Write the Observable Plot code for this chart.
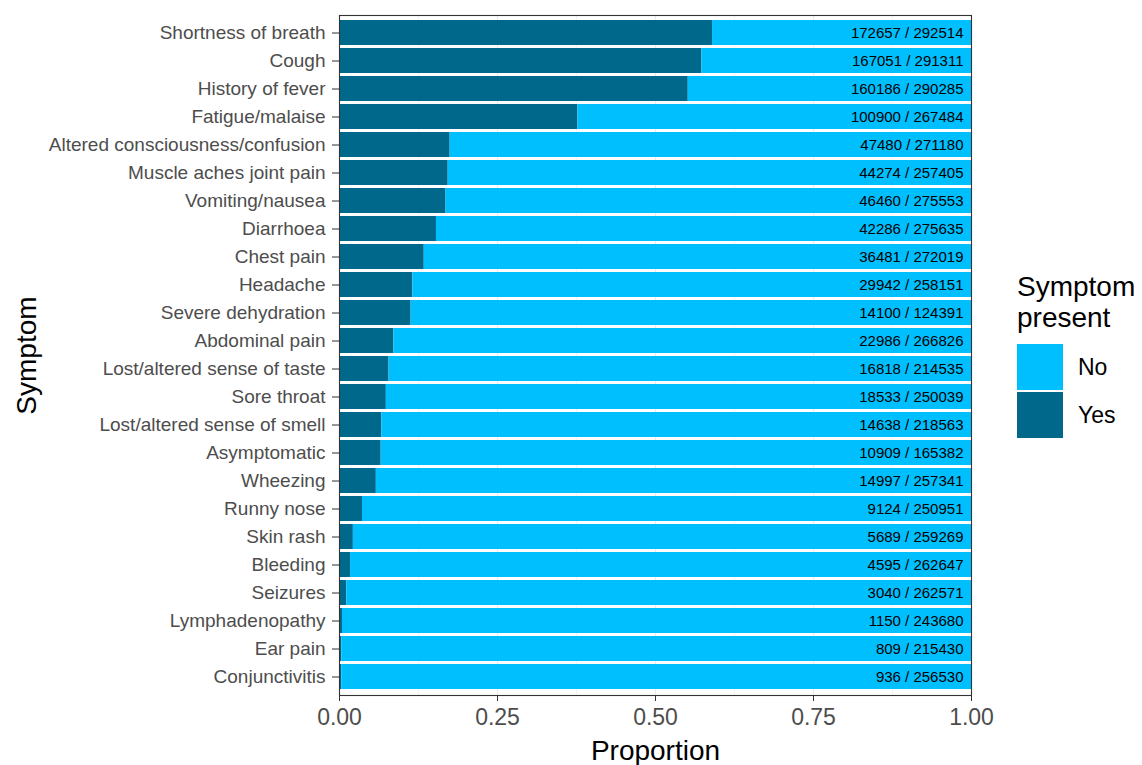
<!DOCTYPE html>
<html>
<head>
<meta charset="utf-8">
<script src="https://cdn.jsdelivr.net/npm/d3@7"></script>
<script src="https://cdn.jsdelivr.net/npm/@observablehq/plot@0.6"></script>
<style>
  html, body { margin: 0; padding: 0; background: #fff; }
  body { font-family: "Liberation Sans", Arial, Helvetica, sans-serif; }
  #wrap { position: relative; width: 1142px; height: 765px; }
  #chart { position: absolute; left: 0; top: 0; }
  #chart svg { font-family: "Liberation Sans", Arial, Helvetica, sans-serif; }
  g[aria-label="y-axis label"], g[aria-label="y-axis label"] text,
  g[aria-label="x-axis label"], g[aria-label="x-axis label"] text { font-size: 28px; fill: #000; }
  #legend { position: absolute; left: 1017px; top: 271px; color: #000; }
  #legend .title { font-size: 28px; line-height: 31px; margin-bottom: 10px; }
  #legend .row { display: flex; align-items: center; height: 48px; }
  #legend .sw { width: 46px; height: 46px; margin: 1px 0; }
  #legend .lab { font-size: 23px; margin-left: 15px; }
</style>
</head>
<body>
<div id="wrap">
  <div id="chart"></div>
  <div id="legend"></div>
</div>
<script>
const symptoms = [
  "Shortness of breath", "Cough", "History of fever", "Fatigue/malaise",
  "Altered consciousness/confusion", "Muscle aches joint pain", "Vomiting/nausea",
  "Diarrhoea", "Chest pain", "Headache", "Severe dehydration", "Abdominal pain",
  "Lost/altered sense of taste", "Sore throat", "Lost/altered sense of smell",
  "Asymptomatic", "Wheezing", "Runny nose", "Skin rash", "Bleeding", "Seizures",
  "Lymphadenopathy", "Ear pain", "Conjunctivitis"
];
const yesCounts = [
  172657, 167051, 160186, 100900, 47480, 44274, 46460, 42286, 36481, 29942, 14100,
  22986, 16818, 18533, 14638, 10909, 14997, 9124, 5689, 4595, 3040, 1150, 809, 936
];
const totals = [
  292514, 291311, 290285, 267484, 271180, 257405, 275553, 275635, 272019, 258151,
  124391, 266826, 214535, 250039, 218563, 165382, 257341, 250951, 259269, 262647,
  262571, 243680, 215430, 256530
];
const presentLevels = ["No", "Yes"];
const presentColors = ["#00BFFF", "#00688B"];
const xTicks = [0, 0.25, 0.5, 0.75, 1];
const xMinorTicks = [0.125, 0.375, 0.625, 0.875];

const base = symptoms.map((s, i) => ({symptom: s, yes: yesCounts[i], total: totals[i]}));
const rows = base.flatMap(d => [
  {symptom: d.symptom, present: "Yes", prop: d.yes / d.total},
  {symptom: d.symptom, present: "No", prop: 1 - d.yes / d.total}
]);

const chart = Plot.plot({
  width: 1000,
  height: 765,
  marginLeft: 339,
  marginRight: 29,
  marginTop: 15,
  marginBottom: 70,
  style: {fontFamily: '"Liberation Sans", Arial, Helvetica, sans-serif', background: "#fff"},
  x: {domain: [0, 1]},
  y: {domain: symptoms, paddingInner: 0.1, paddingOuter: 0.05},
  color: {domain: presentLevels, range: presentColors},
  marks: [
    Plot.gridX(xMinorTicks, {stroke: "#ebebeb", strokeOpacity: 1, strokeWidth: 0.6}),
    Plot.gridX(xTicks, {stroke: "#ebebeb", strokeOpacity: 1, strokeWidth: 1.1}),
    Plot.barX(rows, Plot.stackX({
      x: "prop", y: "symptom", fill: "present",
      order: ["Yes", "No"]
    })),
    Plot.text(base, {
      x: () => 1, y: "symptom",
      text: d => `${d.yes} / ${d.total}`,
      textAnchor: "end", dx: -8, fontSize: 15, fill: "#000"
    }),
    Plot.frame({stroke: "#333333", strokeWidth: 1.1}),
    Plot.axisX({
      ticks: xTicks, tickFormat: d3.format(".2f"), tickSize: 6, tickPadding: 7,
      fontSize: 23, color: "#4d4d4d", stroke: "#333333",
      label: "Proportion", labelAnchor: "center", labelArrow: "none", labelOffset: 64
    }),
    Plot.axisY({
      tickSize: 7, tickPadding: 7, fontSize: 19, color: "#4d4d4d", stroke: "#333333",
      label: "Symptom", labelAnchor: "center", labelArrow: "none", labelOffset: 323
    })
  ]
});
document.getElementById("chart").appendChild(chart);

const legend = document.getElementById("legend");
legend.innerHTML = `<div class="title">Symptom<br>present</div>` +
  presentLevels.map((lv, i) =>
    `<div class="row"><div class="sw" style="background:${presentColors[i]}"></div><div class="lab">${lv}</div></div>`
  ).join("");
</script>
</body>
</html>
